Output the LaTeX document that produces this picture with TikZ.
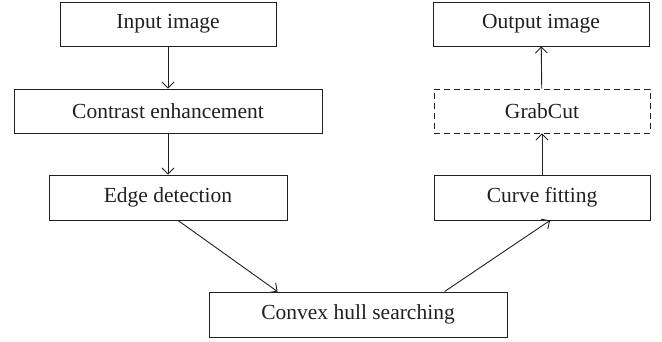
\documentclass[tikz,border=0pt]{standalone}
\usepackage{fontspec}
\setmainfont{Liberation Serif}
\usetikzlibrary{arrows.meta,calc}
\definecolor{ink}{HTML}{231F20}
\begin{document}
\begin{tikzpicture}[x=1pt,y=-1pt,
  box/.style={draw=ink,line width=0.9pt,rectangle,inner sep=0pt,text=ink,
    font=\fontsize{21.5}{26}\selectfont},
  dbox/.style={box,dash pattern=on 6pt off 4pt},
  arr/.style={draw=ink,line width=0.9pt,-{Straight Barb[length=6pt,width=12pt,line width=0.9pt]}}]
\useasboundingbox (0,0) rectangle (662,341);
\node[box,minimum width=216,minimum height=44] (in) at (168,24) {Input image};
\node[box,minimum width=308,minimum height=44] (con) at (168,111) {Contrast enhancement};
\node[box,minimum width=238,minimum height=45] (edge) at (168,197.5) {Edge detection};
\node[box,minimum width=298,minimum height=45] (hull) at (358,314.5) {Convex hull searching};
\node[box,minimum width=216,minimum height=45] (curve) at (542,197.5) {Curve fitting};
\node[dbox,minimum width=216,minimum height=44] (grab) at (542,111) {GrabCut};
\node[box,minimum width=216,minimum height=44] (out) at (541,24) {Output image};
\draw[arr] (in) -- (con);
\draw[arr] (con) -- (edge);
\draw[arr] ($(edge.south)+(10,0)$) -- ($(hull.north west)+(69,0)$);
\draw[arr] ($(hull.north west)+(236,0)$) -- ($(curve.south)+(8,0)$);
\draw[arr] (curve) -- (grab);
\draw[arr] (grab) -- (out);
\end{tikzpicture}
\end{document}
